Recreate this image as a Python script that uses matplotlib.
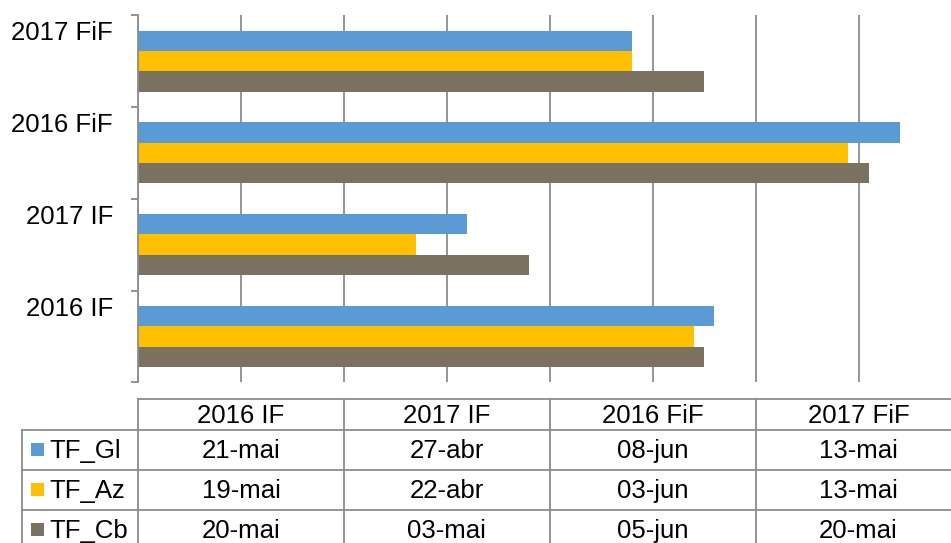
import datetime as dt
import matplotlib
matplotlib.use("Agg")
import matplotlib.pyplot as plt
import matplotlib.dates as mdates
import matplotlib.transforms as mtransforms
import numpy as np

# ---------------- data ----------------
categories = ["2016 IF", "2017 IF", "2016 FiF", "2017 FiF"]
series_names = ["TF_Gl", "TF_Az", "TF_Cb"]
tf_gl = ["21-mai", "27-abr", "08-jun", "13-mai"]
tf_az = ["19-mai", "22-abr", "03-jun", "13-mai"]
tf_cb = ["20-mai", "03-mai", "05-jun", "20-mai"]
axis_start = "26-mar"
axis_span_days = 80
grid_step_days = 10

# ---------------- style ----------------
colors = ["#5B9BD5", "#FFC000", "#7B7160"]
grid_color = "#8C8C8C"
FONT = ["Liberation Sans", "DejaVu Sans"]
FS = 18.5
plt.rcParams["font.family"] = FONT

MONTHS = {"jan": 1, "fev": 2, "mar": 3, "abr": 4, "mai": 5, "jun": 6,
          "jul": 7, "ago": 8, "set": 9, "out": 10, "nov": 11, "dez": 12}


def to_num(s, year=2017):
    d, m = s.split("-")
    return mdates.date2num(dt.date(year, MONTHS[m], int(d)))


series_vals = [np.array([to_num(s) for s in ser]) for ser in (tf_gl, tf_az, tf_cb)]
series_txt = [tf_gl, tf_az, tf_cb]
x0 = to_num(axis_start)
x1 = x0 + axis_span_days

W, H = 951, 543
DPI = 100
fig = plt.figure(figsize=(W / DPI, H / DPI), dpi=DPI)

# plot area in pixels
pl, pr, pt, pb = 138.2, 961.4, 15.3, 382.3
ax = fig.add_axes([pl / W, 1 - pb / H, (pr - pl) / W, (pb - pt) / H])

y = np.arange(len(categories))
bh = 0.222
offsets = [bh, 0.0, -bh]
for vals, c, off in zip(series_vals, colors, offsets):
    ax.barh(y + off, vals - x0, left=x0, height=bh, color=c, zorder=2)

ax.set_xlim(x0, x1)
ax.set_ylim(-0.5, len(categories) - 0.5)
ax.set_xticks(x0 + np.arange(0, axis_span_days + 1, grid_step_days))
ax.tick_params(axis="x", length=0, labelbottom=False)
ax.grid(axis="x", color=grid_color, linewidth=1.3, zorder=0)
ax.set_axisbelow(True)
for s in ("top", "right", "bottom"):
    ax.spines[s].set_visible(False)
ax.spines["left"].set_color(grid_color)
ax.spines["left"].set_linewidth(1.3)

ax.set_yticks(y)
ax.set_yticklabels([])
ax.tick_params(axis="y", which="major", length=0)
ax.set_yticks(np.arange(-0.5, len(categories)), minor=True)
ax.tick_params(axis="y", which="minor", length=5, width=1.3, color=grid_color,
               direction="out")

# category labels (sit above the category centre, as in reference)
lab_tr = ax.get_yaxis_transform() + mtransforms.ScaledTranslation(
    0, 20.8 / DPI, fig.dpi_scale_trans)
for yi, cat in zip(y, categories):
    ax.text(-(pl - 113) / (pr - pl), yi, cat, ha="right", va="baseline",
            fontsize=FS, transform=lab_tr, color="black")

# ---------------- data table ----------------
tab = fig.add_axes([0, 0, 1, 1], zorder=-1)
tab.set_xlim(0, W)
tab.set_ylim(H, 0)
tab.axis("off")

col_edges = np.linspace(pl, pr, len(categories) + 1)
row_lines = [399, 430, 470, 509.5, 549]
left_edge = 22.3
lw = 1.3
# horizontal lines
tab.plot([pl, pr], [row_lines[0]] * 2, color=grid_color, lw=lw)
for yl in row_lines[1:]:
    tab.plot([left_edge, pr], [yl] * 2, color=grid_color, lw=lw)
# vertical lines
tab.plot([left_edge, left_edge], [row_lines[1], row_lines[-1]], color=grid_color, lw=lw)
for xe in col_edges:
    tab.plot([xe, xe], [row_lines[0], row_lines[-1]], color=grid_color, lw=lw)

col_centers = (col_edges[:-1] + col_edges[1:]) / 2
header_base = 423.3
for xc, cat in zip(col_centers, categories):
    tab.text(xc, header_base, cat, ha="center", va="baseline", fontsize=FS)

row_base = [457.8, 497.8, 537.8]
for rb, name, txts, c in zip(row_base, series_names, series_txt, colors):
    tab.add_patch(plt.Rectangle((31, rb - 15.2), 13.3, 13.3, color=c, lw=0))
    tab.text(49.5, rb, name, ha="left", va="baseline", fontsize=FS)
    for xc, t in zip(col_centers, txts):
        tab.text(xc, rb, t, ha="center", va="baseline", fontsize=FS)

fig.savefig("out.png", dpi=DPI)
